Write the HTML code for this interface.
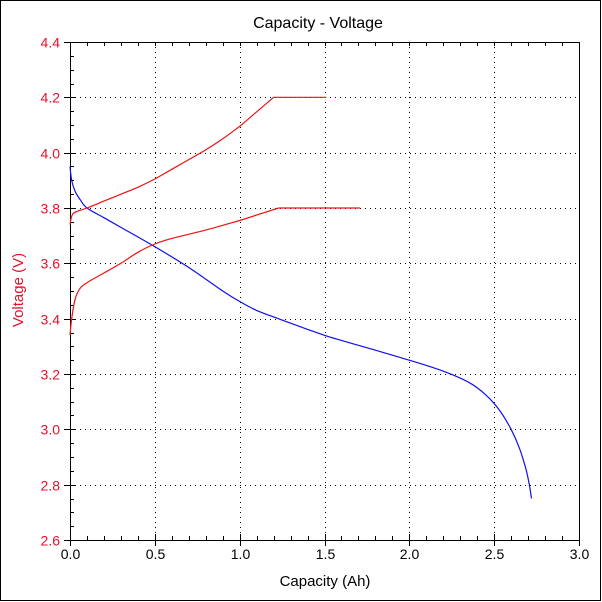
<!DOCTYPE html>
<html><head><meta charset="utf-8"><style>
html,body{margin:0;padding:0;background:#fff}
svg{display:block}
text{font-family:"Liberation Sans",Arial,sans-serif;font-size:14px}
</style></head><body>
<svg id="s" width="602" height="602" xmlns="http://www.w3.org/2000/svg">
<rect x="0.5" y="0.5" width="600" height="600" fill="#fff" stroke="#000" stroke-width="1"/>
<text x="318" y="28" text-anchor="middle" style="font-size:16px">Capacity - Voltage</text>
<text x="325" y="586" text-anchor="middle" style="font-size:15px">Capacity (Ah)</text>
<text transform="translate(23,290) rotate(-90)" text-anchor="middle" fill="#e8102a" style="font-size:15px">Voltage (V)</text>
<g id="g"></g>
</svg>
<script>
var L=70,R=579,T=42,B=540;
function X(c){return L+c*(R-L)/3}
function Y(v){return B-(v-2.6)*(B-T)/1.8}
var h='';
for(var i=1;i<6;i++){var x=Math.round(X(i*0.5))+0.5;h+='<line x1="'+x+'" y1="'+T+'" x2="'+x+'" y2="'+B+'" stroke="#000" stroke-dasharray="1,4"/>';}
for(var i=1;i<9;i++){var y=Math.round(Y(2.6+i*0.2))+0.5;h+='<line x1="'+L+'" y1="'+y+'" x2="'+R+'" y2="'+y+'" stroke="#000" stroke-dasharray="1,4"/>';}
h+='<rect x="'+(L+0.5)+'" y="'+(T+0.5)+'" width="'+(R-L)+'" height="'+(B-T)+'" fill="none" stroke="#000"/>';
for(var i=0;i<=30;i++){var x=Math.round(X(i*0.1))+0.5;var maj=i%5==0;
h+='<line x1="'+x+'" y1="'+(B-(maj?6:4))+'" x2="'+x+'" y2="'+(B+(maj?6:0))+'" stroke="#000"/>';
h+='<line x1="'+x+'" y1="'+T+'" x2="'+x+'" y2="'+(T+4)+'" stroke="#000"/>';
if(maj)h+='<text x="'+x+'" y="'+(B+19)+'" text-anchor="middle">'+(i/10).toFixed(1)+'</text>';}
for(var i=0;i<=36;i++){var y=Math.round(Y(2.6+i*0.05))+0.5;var maj=i%4==0;
h+='<line x1="'+(L-(maj?6:0))+'" y1="'+y+'" x2="'+(L+(maj?6:4))+'" y2="'+y+'" stroke="#000"/>';
if(maj)h+='<text x="'+(L-10)+'" y="'+(y+5)+'" text-anchor="end" fill="#e8102a">'+(2.6+i*0.05).toFixed(1)+'</text>';}
function P(pts,c,nsm){var q=pts.map(function(p){return [X(p[0]),Y(p[1])]});
var d='M'+q[0][0].toFixed(1)+','+q[0][1].toFixed(1);
for(var k=0;k<q.length-1;k++){var p0=q[k-1]||q[k],p1=q[k],p2=q[k+1],p3=q[k+2]||p2;
if(k>=q.length-1-(nsm||0)){d+='L'+p2[0].toFixed(1)+','+p2[1].toFixed(1);continue;}
if(nsm&&k==q.length-2-nsm)p3=p2;
var c1=[p1[0]+(p2[0]-p0[0])/6,p1[1]+(p2[1]-p0[1])/6],c2=[p2[0]-(p3[0]-p1[0])/6,p2[1]-(p3[1]-p1[1])/6];
d+='C'+c1[0].toFixed(1)+','+c1[1].toFixed(1)+' '+c2[0].toFixed(1)+','+c2[1].toFixed(1)+' '+p2[0].toFixed(1)+','+p2[1].toFixed(1);}
return '<path d="'+d+'" fill="none" stroke="'+c+'" stroke-width="1.2"/>';}
h+=P([[0,3.95],[0.01,3.9],[0.03,3.86],[0.06,3.83],[0.1,3.8],[0.2,3.765],[0.3,3.73],[0.5,3.66],[0.7,3.585],[0.9,3.5],[1.0,3.462],[1.1,3.43],[1.25,3.395],[1.5,3.34],[1.75,3.295],[2.0,3.25],[2.2,3.21],[2.35,3.17],[2.45,3.125],[2.53,3.07],[2.6,3.0],[2.65,2.93],[2.69,2.85],[2.71,2.79],[2.72,2.75]],'#1010f0');
h+=P([[0,3.74],[0.01,3.77],[0.03,3.785],[0.1,3.8],[0.2,3.825],[0.3,3.85],[0.4,3.875],[0.5,3.905],[0.6,3.94],[0.7,3.975],[0.8,4.01],[0.9,4.05],[1.0,4.095],[1.2,4.2],[1.51,4.2]],'#f01010',2);
h+=P([[0,3.34],[0.01,3.4],[0.03,3.47],[0.06,3.51],[0.1,3.53],[0.2,3.565],[0.3,3.6],[0.4,3.64],[0.5,3.67],[0.6,3.69],[0.8,3.72],[1.0,3.755],[1.23,3.8],[1.71,3.8]],'#f01010',2);
document.getElementById('g').innerHTML=h;
</script>
</body></html>
